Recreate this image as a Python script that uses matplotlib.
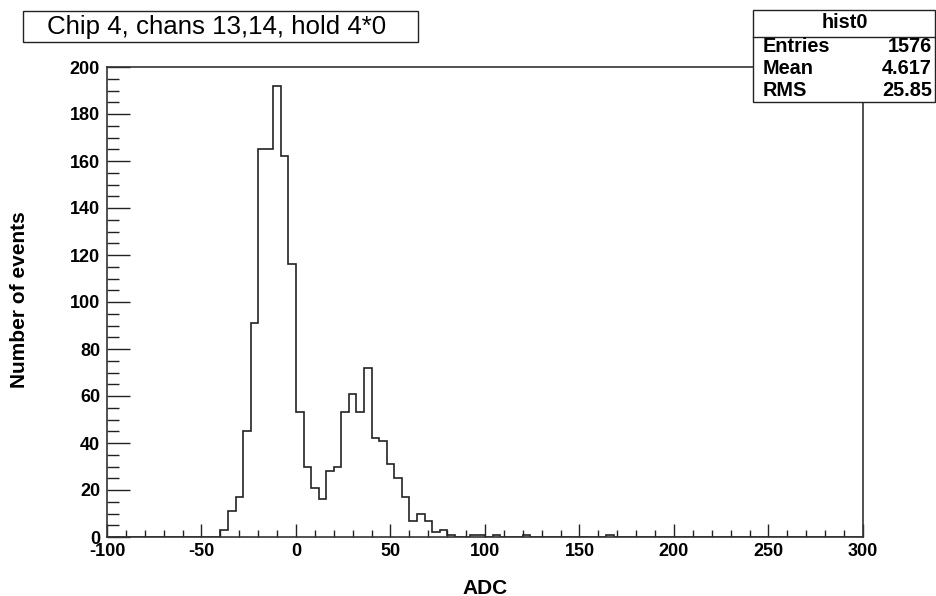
import numpy as np
import matplotlib
matplotlib.use('Agg')
import matplotlib.pyplot as plt
from matplotlib.patches import Rectangle
from matplotlib.lines import Line2D
from matplotlib.ticker import MultipleLocator

plt.rcParams['axes.unicode_minus'] = False

# ---------------- data ----------------
x_min, x_max, bin_width = -100, 300, 4
y_max = 200
peak_start = -40
peak_counts = [3, 11, 17, 45, 91, 165, 165, 192, 162, 116,
               53, 30, 21, 16, 28, 30, 53, 61, 53, 72,
               42, 41, 31, 25, 17, 7, 10, 7, 2, 3, 1]
tail_bin_lows = [92, 96, 104, 120, 164]
tail_counts = [1, 1, 1, 1, 1]

title = "Chip 4, chans 13,14, hold 4*0"
stats_name = "hist0"
stats_labels = ["Entries", "Mean", "RMS"]
stats_values = ["1576", "4.617", "25.85"]
x_label = "ADC"
y_label = "Number of events"

edges = np.arange(x_min, x_max + bin_width, bin_width)
counts = np.zeros(len(edges) - 1)
i0 = int((peak_start - x_min) / bin_width)
counts[i0:i0 + len(peak_counts)] = peak_counts
for lo, c in zip(tail_bin_lows, tail_counts):
    counts[int((lo - x_min) / bin_width)] = c

# ---------------- figure ----------------
W, H = 937, 596
fig = plt.figure(figsize=(W / 100, H / 100), dpi=100)
fig.patch.set_facecolor('white')

def fx(px):
    return px / W

def fy(py):
    return 1 - py / H

FONT = 'Liberation Sans'

ax = fig.add_axes([fx(107), fy(537), fx(863) - fx(107), fy(67) - fy(537)])
ax.stairs(counts, edges, color='#222222', lw=1.2)
ax.set_xlim(x_min, x_max)
ax.set_ylim(0, y_max)

ax.xaxis.set_major_locator(MultipleLocator(50))
ax.xaxis.set_minor_locator(MultipleLocator(10))
ax.yaxis.set_major_locator(MultipleLocator(20))
ax.yaxis.set_minor_locator(MultipleLocator(5))
ax.tick_params(which='both', direction='in', top=False, right=False,
               color='#222222', width=1.0)
ax.tick_params(axis='x', which='major', length=9.4, pad=4.5)
ax.tick_params(axis='x', which='minor', length=4.7)
ax.tick_params(axis='y', which='major', length=16.5, pad=5)
ax.tick_params(axis='y', which='minor', length=8.6)
for lab in ax.get_xticklabels() + ax.get_yticklabels():
    lab.set_fontfamily(FONT)
    lab.set_fontweight('bold')
    lab.set_fontsize(13)
for sp in ax.spines.values():
    sp.set_color('#333333')
    sp.set_linewidth(1.2)

# axis titles
fig.text(fx(485), fy(588), x_label, ha='center', va='center',
         fontfamily=FONT, fontweight='bold', fontsize=15)
fig.text(fx(20), fy(300), y_label, ha='center', va='center', rotation=90,
         fontfamily=FONT, fontweight='bold', fontsize=15)

# title box
fig.patches.append(Rectangle((fx(22.7), fy(42.3)), fx(418.3) - fx(22.7),
                             fy(11) - fy(42.3), transform=fig.transFigure,
                             facecolor='white', edgecolor='#222222', lw=1.0,
                             zorder=2))
fig.text(fx(217), fy(27), title, ha='center', va='center',
         fontfamily=FONT, fontsize=18.6, zorder=3)

# stats box
fig.patches.append(Rectangle((fx(752.7), fy(101.7)), fx(935) - fx(752.7),
                             fy(10) - fy(101.7), transform=fig.transFigure,
                             facecolor='white', edgecolor='#222222', lw=1.0,
                             zorder=2))
fig.lines.append(Line2D([fx(752.7), fx(935)], [fy(37), fy(37)],
                        transform=fig.transFigure, color='#222222', lw=1.0,
                        zorder=3))
fig.text(fx(845), fy(23), stats_name, ha='center', va='center',
         fontfamily=FONT, fontweight='bold', fontsize=14.3, zorder=3)
row_y = [46, 68.5, 91]
for lbl, val, yy in zip(stats_labels, stats_values, row_y):
    fig.text(fx(763), fy(yy), lbl, ha='left', va='center',
             fontfamily=FONT, fontweight='bold', fontsize=14.3, zorder=3)
    fig.text(fx(932), fy(yy), val, ha='right', va='center',
             fontfamily=FONT, fontweight='bold', fontsize=14.3, zorder=3)

fig.savefig('out.png', dpi=100, facecolor='white')
